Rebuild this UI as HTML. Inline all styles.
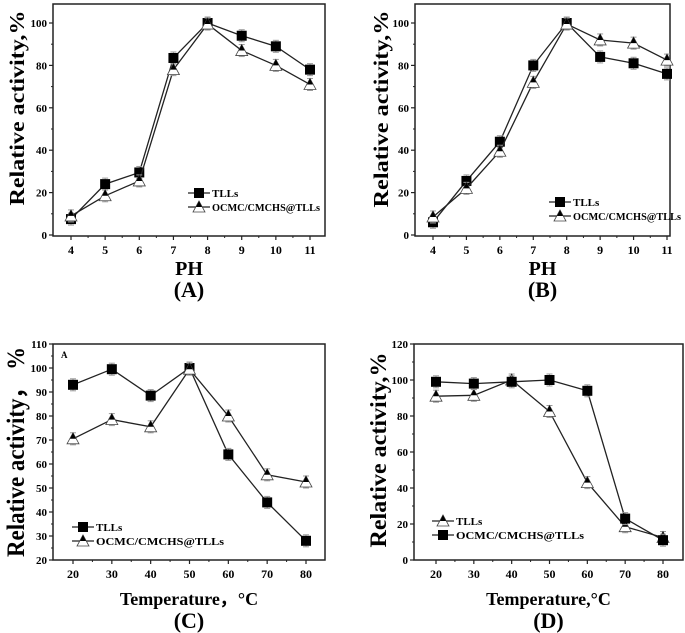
<!DOCTYPE html>
<html><head><meta charset="utf-8"><style>
html,body{margin:0;padding:0;background:#fff;}
svg{display:block;font-family:"Liberation Serif",serif;font-weight:bold;}
</style></head><body>
<svg id="c" width="685" height="633" viewBox="0 0 685 633" xmlns="http://www.w3.org/2000/svg"></svg>
<script>
const phCats=[4,5,6,7,8,9,10,11];
const tempCats=[20,30,40,50,60,70,80];
const aTLLs=[7.5,24,29.5,83.5,100,94,89,78];
const aOCMC=[9,18.5,25.5,78,99.5,87,80,71];
const bTLLs=[6,25.5,44,80,100,84,81,76];
const bOCMC=[8.5,22,39.5,72,99.5,92,90.5,82.5];
const cTLLs=[93,99.5,88.5,100,64,44,28];
const cOCMC=[70.5,78.5,75.5,99.5,80,55.5,52.5];
const dTLLs=[91,91.5,100,82.5,43,18.5,12.5];
const dOCMC=[99,98,99,100,94,23,11];
const aYTicks=[0,20,40,60,80,100];
const cYTicks=[20,30,40,50,60,70,80,90,100,110];
const dYTicks=[0,20,40,60,80,100,120];

const NS="http://www.w3.org/2000/svg";
const svg=document.getElementById('c');
function el(t,a,p){const e=document.createElementNS(NS,t);for(const k in a)e.setAttribute(k,a[k]);(p||svg).appendChild(e);return e;}

function panel(P){
  const g=el('g',{});
  
  
  const X=v=>P.x0+(v-P.xa)/(P.xb-P.xa)*(P.x1-P.x0);
  const Y=v=>P.y0+(v-P.ya)/(P.yb-P.ya)*(P.y1-P.y0);
  const fr=el('rect',{x:P.L,y:P.T,width:P.R-P.L,height:P.B-P.T,fill:'none',stroke:'#222','stroke-width':1.5},g);
  
  
  P.yt.forEach((v,i)=>{
    const y=Y(v);
    el('line',{x1:P.L-4,x2:P.L,y1:y,y2:y,stroke:'#222','stroke-width':1.2},g);
    const t=el('text',{x:P.L-6,y:y+4,'text-anchor':'end','font-size':11},g);
    t.textContent=v;
    
    
    if(i<P.yt.length-1){const m=Y((v+P.yt[i+1])/2);el('line',{x1:P.L-2,x2:P.L,y1:m,y2:m,stroke:'#222'},g);}
  });
  P.cats.forEach((v,i)=>{
    const x=X(v);
    el('line',{x1:x,x2:x,y1:P.B,y2:P.B+4,stroke:'#222','stroke-width':1.2},g);
    const t=el('text',{x:x,y:P.B+18,'text-anchor':'middle','font-size':12},g);
    t.textContent=v;
    
    
    if(i<P.cats.length-1){const m=X((v+P.cats[i+1])/2);el('line',{x1:m,x2:m,y1:P.B,y2:P.B+2,stroke:'#222'},g);}
  });
  const xt=el('text',{x:(P.L+P.R)/2,y:P.xty,'text-anchor':'middle','font-size':P.xfs},g);
  xt.textContent=P.xtitle;
  
  
  const yt=el('text',{x:0,y:0,'text-anchor':'middle','font-size':P.yfs,textLength:P.ylen,lengthAdjust:'spacingAndGlyphs',transform:`translate(${P.ytx},${P.ytc}) rotate(-90)`},g);
  yt.textContent=P.ytitle;
  
  
  const pl=el('text',{x:(P.L+P.R)/2,y:P.ply,'text-anchor':'middle','font-size':22},g);
  pl.textContent=P.label;
  
  
  P.series.forEach(s=>{
    const pts=s.vals.map((v,i)=>[X(P.cats[i]),Y(v)]);
    const ln=el('polyline',{points:pts.map(p=>p.join(',')).join(' '),fill:'none',stroke:'#222','stroke-width':1.3},g);
    
    
    pts.forEach(p=>{
      el('line',{x1:p[0],x2:p[0],y1:p[1]-6,y2:p[1]+6,stroke:'#999'},g);
      el('line',{x1:p[0]-3,x2:p[0]+3,y1:p[1]-6,y2:p[1]-6,stroke:'#999'},g);
      el('line',{x1:p[0]-3,x2:p[0]+3,y1:p[1]+6,y2:p[1]+6,stroke:'#999'},g);
      marker(g,s.m,p[0],p[1]);
    });
  });
  P.leg.forEach((s,i)=>{
    const y=P.legY+i*14;
    el('line',{x1:P.legX,x2:P.legX+22,y1:y,y2:y,stroke:'#222','stroke-width':1.3},g);
    marker(g,s.m,P.legX+11,y);
    const a={x:P.legX+24,y:y+4,'font-size':11};
    if(s.t.length>5){a.textLength=P.legLen;a.lengthAdjust='spacingAndGlyphs';}
    const t=el('text',a,g);
    t.textContent=s.t;
    
    
  });
  if(P.tag){const t=el('text',{x:P.L+8,y:P.T+14,'font-size':9},g);t.textContent=P.tag;}
}
function marker(g,m,x,y){
  if(m==='s'){
    const r=el('rect',{x:x-5,y:y-5,width:10,height:10,fill:'#000'},g);
    
    
  } else {
    el('path',{d:`M${x-6},${y+5} L${x+6},${y+5} L${x},${y-6} Z`,fill:'#fff',stroke:'#444','stroke-width':0.8},g);
    const t=el('path',{d:`M${x-3},${y} L${x+3},${y} L${x},${y-6} Z`,fill:'#000'},g);
    
    
  }
}
panel({name:'panel-a',L:53,R:325,T:4,B:236,x0:71,x1:310,xa:4,xb:11,y0:235,y1:23,ya:0,yb:100,
  cats:phCats,yt:aYTicks,xtitle:'PH',xty:275,xfs:20,ytitle:'Relative activity,%',ytx:24,ytc:108,ylen:195,yfs:21,label:'(A)',ply:297,
  series:[{vals:aTLLs,m:'s'},{vals:aOCMC,m:'t'}],leg:[{t:'TLLs',m:'s'},{t:'OCMC/CMCHS@TLLs',m:'t'}],legX:188,legY:193,legLen:108});
panel({name:'panel-b',L:415,R:670,T:4,B:236,x0:433,x1:667,xa:4,xb:11,y0:235,y1:23,ya:0,yb:100,
  cats:phCats,yt:aYTicks,xtitle:'PH',xty:275,xfs:20,ytitle:'Relative activity,%',ytx:388,ytc:109,ylen:197,yfs:21,label:'(B)',ply:297,
  series:[{vals:bTLLs,m:'s'},{vals:bOCMC,m:'t'}],leg:[{t:'TLLs',m:'s'},{t:'OCMC/CMCHS@TLLs',m:'t'}],legX:549,legY:202,legLen:108});
panel({name:'panel-c',L:53,R:325,T:344,B:560,x0:73,x1:306,xa:20,xb:80,y0:560,y1:344,ya:20,yb:110,
  cats:tempCats,yt:cYTicks,xtitle:'Temperature，°C',xty:605,xfs:18,ytitle:'Relative activity， %',ytx:24,ytc:452,ylen:210,yfs:25,label:'(C)',ply:628,tag:'A',
  series:[{vals:cTLLs,m:'s'},{vals:cOCMC,m:'t'}],leg:[{t:'TLLs',m:'s'},{t:'OCMC/CMCHS@TLLs',m:'t'}],legX:72,legY:527,legLen:128});
panel({name:'panel-d',L:414,R:683,T:344,B:560,x0:436,x1:663,xa:20,xb:80,y0:560,y1:344,ya:0,yb:120,
  cats:tempCats,yt:dYTicks,xtitle:'Temperature,°C',xty:605,xfs:18,ytitle:'Relative activity,%',ytx:386,ytc:450,ylen:195,yfs:23,label:'(D)',ply:628,
  series:[{vals:dTLLs,m:'t'},{vals:dOCMC,m:'s'}],leg:[{t:'TLLs',m:'t'},{t:'OCMC/CMCHS@TLLs',m:'s'}],legX:432,legY:521,legLen:128});
</script>
</body></html>
